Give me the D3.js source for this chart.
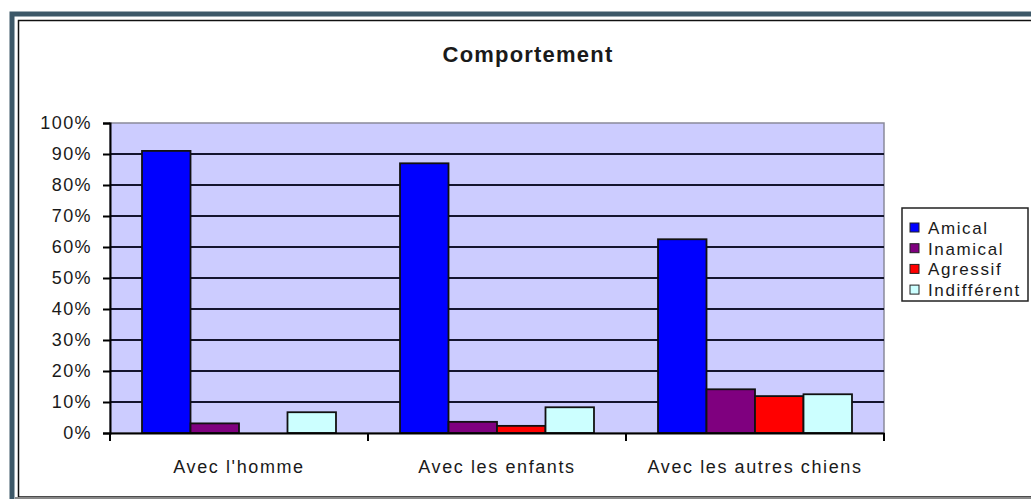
<!DOCTYPE html>
<html>
<head>
<meta charset="utf-8">
<script src="https://cdn.jsdelivr.net/npm/d3@7"></script>
<style>
  body { margin: 0; background: #fff; }
  text { font-family: "Liberation Sans", Arial, sans-serif; fill: #1a1a1a; }
</style>
</head>
<body>
<div id="chart"></div>
<script>
// data
var categories = ["Avec l'homme", "Avec les enfants", "Avec les autres chiens"];
var seriesNames = ["Amical", "Inamical", "Agressif", "Indifférent"];
var amical = [0.91, 0.87, 0.625];
var inamical = [0.031, 0.036, 0.141];
var agressif = [0, 0.023, 0.119];
var indifferent = [0.067, 0.083, 0.125];
var yTicks = [0, 0.1, 0.2, 0.3, 0.4, 0.5, 0.6, 0.7, 0.8, 0.9, 1];
var colors = ["#0000ff", "#7f007f", "#ff0000", "#ccffff"];

var seriesValues = [amical, inamical, agressif, indifferent];

var W = 1031, H = 499;
var plot = {left: 110, right: 884, top: 123, bottom: 433};

var svg = d3.select("#chart").append("svg")
    .attr("width", W)
    .attr("height", H);

// outer frame
svg.append("rect").attr("x", 0).attr("y", 0).attr("width", W).attr("height", H).attr("fill", "#fff");
svg.append("rect")
    .attr("x", 12).attr("y", 14).attr("width", W + 20).attr("height", H + 20)
    .attr("fill", "none").attr("stroke", "#3d5868").attr("stroke-width", 5);
svg.append("rect")
    .attr("x", 18.5).attr("y", 20.5).attr("width", W).attr("height", H - 22.5)
    .attr("fill", "none").attr("stroke", "#111").attr("stroke-width", 1.5);
svg.append("line")
    .attr("x1", 15).attr("x2", W).attr("y1", 498).attr("y2", 498)
    .attr("stroke", "#888").attr("stroke-width", 2);

// title
svg.append("text")
    .attr("x", 528).attr("y", 62)
    .attr("text-anchor", "middle")
    .style("font-size", "22px").style("font-weight", "bold")
    .style("letter-spacing", "1.2px")
    .text("Comportement");

// scales
var x0 = d3.scaleBand()
    .domain(categories)
    .range([plot.left, plot.right])
    .padding(0);

var x1 = d3.scaleBand()
    .domain(seriesNames)
    .range([0, x0.bandwidth()])
    .paddingInner(0)
    .paddingOuter(0.66);

var y = d3.scaleLinear()
    .domain([0, 1])
    .range([plot.bottom, plot.top]);

// plot area
svg.append("rect")
    .attr("x", plot.left).attr("y", plot.top)
    .attr("width", plot.right - plot.left).attr("height", plot.bottom - plot.top)
    .attr("fill", "#ccccff").attr("stroke", "#8a8a9a").attr("stroke-width", 1.5);

// grid lines
svg.append("g")
    .selectAll("line")
    .data(yTicks.filter(function(d) { return d > 0 && d < 1; }))
    .join("line")
    .attr("x1", plot.left).attr("x2", plot.right)
    .attr("y1", function(d) { return y(d); })
    .attr("y2", function(d) { return y(d); })
    .attr("stroke", "#14142e").attr("stroke-width", 2);

// bars
var groups = svg.append("g")
    .selectAll("g")
    .data(categories)
    .join("g")
    .attr("transform", function(d) { return "translate(" + x0(d) + ",0)"; });

groups.selectAll("rect")
    .data(function(d, i) {
      return seriesNames.map(function(s, j) { return {name: s, value: seriesValues[j][i], k: j}; });
    })
    .join("rect")
    .filter(function(d) { return d.value > 0; })
    .attr("x", function(d) { return x1(d.name); })
    .attr("y", function(d) { return y(d.value); })
    .attr("width", x1.bandwidth())
    .attr("height", function(d) { return y(0) - y(d.value); })
    .attr("fill", function(d) { return colors[d.k]; })
    .attr("stroke", "#111")
    .attr("stroke-width", 1.8);

// y axis
var yAxis = svg.append("g")
    .attr("transform", "translate(" + plot.left + ",0)")
    .call(d3.axisLeft(y).tickValues(yTicks).tickSize(7).tickPadding(11)
      .tickFormat(function(d) { return Math.round(d * 100) + "%"; }));
yAxis.select(".domain").attr("stroke", "#000").attr("stroke-width", 2);
yAxis.selectAll(".tick line").attr("stroke", "#000").attr("stroke-width", 2);
yAxis.selectAll(".tick text")
    .style("font-size", "18px").style("letter-spacing", "1.4px")
    .attr("fill", "#1a1a1a");

// x axis
var xAxis = svg.append("g")
    .attr("transform", "translate(0," + plot.bottom + ")")
    .call(d3.axisBottom(x0).tickSize(0).tickPadding(27));
xAxis.select(".domain").attr("stroke", "#000").attr("stroke-width", 2);
xAxis.selectAll(".tick text")
    .style("font-size", "18px").style("letter-spacing", "1.6px")
    .attr("fill", "#1a1a1a");

// category separators on the x axis
xAxis.append("g")
    .selectAll("line")
    .data(categories.map(function(c) { return x0(c); }).concat([x0.range()[1]]))
    .join("line")
    .attr("x1", function(d) { return d; }).attr("x2", function(d) { return d; })
    .attr("y1", 0).attr("y2", 8)
    .attr("stroke", "#000").attr("stroke-width", 2);

// legend
var legend = svg.append("g").attr("transform", "translate(902,208)");
legend.append("rect")
    .attr("x", 0).attr("y", 0).attr("width", 126).attr("height", 93)
    .attr("fill", "#fff").attr("stroke", "#222").attr("stroke-width", 1.5);

var items = legend.selectAll("g.item")
    .data(seriesNames)
    .join("g")
    .attr("class", "item")
    .attr("transform", function(d, i) { return "translate(8," + (20 + i * 20.7) + ")"; });

items.append("rect")
    .attr("x", 0).attr("y", -5).attr("width", 9).attr("height", 9)
    .attr("fill", function(d, i) { return colors[i]; })
    .attr("stroke", "#222").attr("stroke-width", 1);

items.append("text")
    .attr("x", 18).attr("y", 6)
    .style("font-size", "17px").style("letter-spacing", "1.6px")
    .text(function(d) { return d; });
</script>
</body>
</html>
